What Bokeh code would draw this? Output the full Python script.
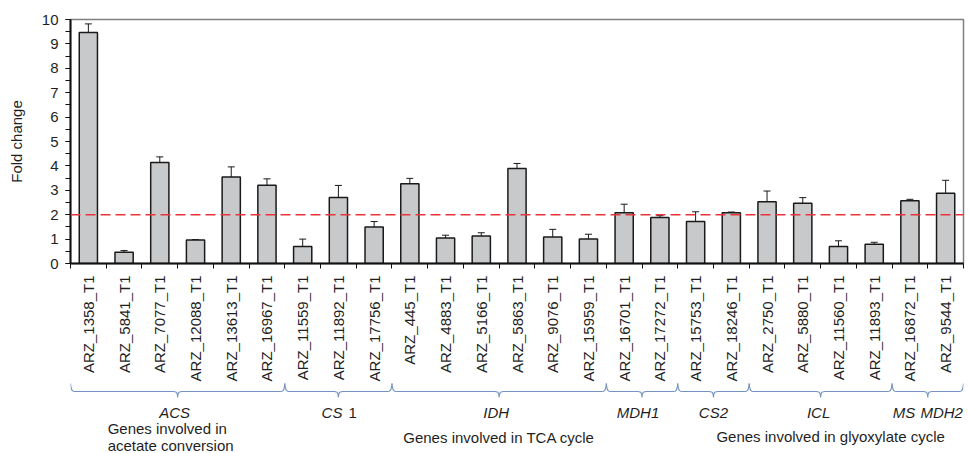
import math
from bokeh.plotting import figure
from bokeh.layouts import column
from bokeh.models import (ColumnDataSource, Range1d, FixedTicker, SingleIntervalTicker,
                          Whisker, TeeHead, Span, Label)
from bokeh.core.properties import value
from bokeh.embed import file_html
from bokeh.resources import INLINE

# ---------------- data ----------------
genes = ["ARZ_1358_T1", "ARZ_5841_T1", "ARZ_7077_T1", "ARZ_12088_T1", "ARZ_13613_T1",
         "ARZ_16967_T1", "ARZ_11559_T1", "ARZ_11892_T1", "ARZ_17756_T1", "ARZ_445_T1",
         "ARZ_4883_T1", "ARZ_5166_T1", "ARZ_5863_T1", "ARZ_9076_T1", "ARZ_15959_T1",
         "ARZ_16701_T1", "ARZ_17272_T1", "ARZ_15753_T1", "ARZ_18246_T1", "ARZ_2750_T1",
         "ARZ_5880_T1", "ARZ_11560_T1", "ARZ_11893_T1", "ARZ_16872_T1", "ARZ_9544_T1"]
fold_change = [9.47, 0.46, 4.14, 0.96, 3.55, 3.21, 0.70, 2.70, 1.50, 3.27,
               1.04, 1.13, 3.89, 1.09, 1.00, 2.08, 1.89, 1.72, 2.08, 2.53,
               2.47, 0.70, 0.79, 2.57, 2.88]
error = [0.35, 0.07, 0.23, 0.02, 0.41, 0.26, 0.30, 0.50, 0.22, 0.22,
         0.12, 0.13, 0.21, 0.31, 0.20, 0.35, 0.07, 0.40, 0.03, 0.44,
         0.23, 0.23, 0.08, 0.06, 0.53]
threshold = 2

gene_groups = ["ACS", "CS", "IDH", "MDH1", "CS2", "ICL", "MS", "MDH2"]
group_suffix = ["", "1", "", "", "", "", "", ""]
group_sizes = [6, 3, 6, 2, 2, 4, 1, 1]
bracket_sizes = [6, 3, 6, 2, 2, 4, 2]
y_max = 10

process_labels = ["Genes involved in\nacetate conversion", "Genes involved in TCA cycle",
                  "Genes involved in glyoxylate cycle"]

FONT = "Liberation Sans"
TXT = "#1f1f1f"

n = len(genes)
xs = list(range(n))
src = ColumnDataSource(dict(x=xs, top=fold_change,
                            upper=[v + e for v, e in zip(fold_change, error)],
                            lower=[v - e for v, e in zip(fold_change, error)]))

W = 969
LEFT = 70
FRAME_W = 893
xr = Range1d(-0.5, n - 0.5)

# ---------------- main chart ----------------
p = figure(width=W, height=273, x_range=xr, y_range=Range1d(0, y_max),
           output_backend="svg", toolbar_location=None,
           min_border_left=LEFT, min_border_right=W - LEFT - FRAME_W,
           min_border_top=19, min_border_bottom=10)
p.xgrid.visible = False
p.ygrid.visible = False
p.outline_line_color = "#808080"
p.outline_line_width = 1.5

p.vbar(x="x", top="top", width=0.51, source=src, fill_color="#c8c9cb",
       line_color="#1a1a1a", line_width=1.5)
p.add_layout(Whisker(source=src, base="x", upper="upper", lower="lower",
                     line_color="#1a1a1a", line_width=1,
                     upper_head=TeeHead(size=7, line_color="#1a1a1a", line_width=1),
                     lower_head=TeeHead(size=7, line_color="#1a1a1a", line_width=1)))
p.add_layout(Span(location=threshold, dimension="width", line_color="#e8343a",
                  line_width=1.5, line_dash="10 5"))

ya = p.yaxis[0]
ya.ticker = SingleIntervalTicker(interval=1, num_minor_ticks=2)
ya.axis_line_color = "#111111"
ya.axis_line_width = 2
ya.major_tick_out = 5
ya.major_tick_in = 0
ya.minor_tick_out = 5
ya.minor_tick_in = 0
ya.major_tick_line_color = "#111111"
ya.minor_tick_line_color = "#111111"
ya.major_label_text_font = FONT
ya.major_label_text_font_size = "15px"
ya.major_label_text_color = TXT
ya.major_label_standoff = 7
ya.axis_label = "Fold change"
ya.axis_label_text_font = FONT
ya.axis_label_text_font_style = "normal"
ya.axis_label_text_font_size = "15px"
ya.axis_label_text_color = TXT
ya.axis_label_standoff = 14

# x axis: only the boundary ticks between genes; gene names are drawn below
xa = p.xaxis[0]
xa.ticker = FixedTicker(ticks=[], minor_ticks=[i - 0.5 for i in range(n + 1)])
xa.major_label_standoff = 0
xa.major_tick_out = 0
xa.major_tick_in = 0
xa.minor_tick_out = 5
xa.minor_tick_in = 0
xa.minor_tick_line_color = "#111111"
xa.axis_line_color = "#111111"
xa.axis_line_width = 2

# ---------------- gene labels, brackets and group labels ----------------
TOP2 = 273
p2 = figure(width=W, height=453 - TOP2, x_range=xr, y_range=Range1d(453 - TOP2, 0),
            output_backend="svg", toolbar_location=None,
            min_border_left=LEFT, min_border_right=W - LEFT - FRAME_W,
            min_border_top=0, min_border_bottom=0)
p2.axis.visible = False
p2.xgrid.visible = False
p2.ygrid.visible = False
p2.outline_line_color = None

def yy(page_y):
    return page_y - TOP2

p2.text(x=xs, y=[yy(275)] * n, text=genes, angle=math.pi / 2,
        text_font=value(FONT), text_font_size="15px", text_color=TXT,
        text_align="right", text_baseline="middle")

px = n / FRAME_W  # data units per pixel
curl_dx = [0, 0.5, 1.3, 2.6, 4.5]
curl_dy = [383, 387, 389.5, 390.7, 391]
b_xs, b_ys = [], []
start = 0
for size in bracket_sizes:
    L = start - 0.5
    R = start + size - 0.5
    M = (L + R) / 2
    bx = [L + d * px for d in curl_dx]
    by = list(curl_dy)
    bx += [M - 4 * px, M - 1.2 * px, M - 0.3 * px, M]
    by += [391, 391.8, 394, 397]
    bx += [M + 0.3 * px, M + 1.2 * px, M + 4 * px]
    by += [394, 391.8, 391]
    bx += [R - d * px for d in reversed(curl_dx)]
    by += list(reversed(curl_dy))
    b_xs.append(bx)
    b_ys.append([yy(v) for v in by])
    start += size
p2.multi_line(xs=b_xs, ys=b_ys, line_color="#7593c2", line_width=1.1)

centers = []
gstarts = []
start = 0
for size in group_sizes:
    gstarts.append(start)
    centers.append(start + (size - 1) / 2)
    start += size

# group names
label_shift = [-3, 0, -3, -4, 0, -2, -6, -4]
for i, name in enumerate(gene_groups):
    common = dict(y=yy(412), text_font=FONT, text_font_size="15px", text_color=TXT,
                  text_baseline="middle")
    if group_suffix[i]:
        p2.add_layout(Label(x=centers[i], x_offset=4, text=name, text_align="right",
                            text_font_style="italic", **common))
        p2.add_layout(Label(x=centers[i], x_offset=10, text=group_suffix[i],
                            text_align="left", **common))
    else:
        p2.add_layout(Label(x=centers[i], x_offset=label_shift[i], text=name,
                            text_align="center", text_font_style="italic", **common))

# process labels
p2.text(x=[centers[0]], y=[yy(436)], text=[process_labels[0]],
        x_offset=-70, text_font=value(FONT), text_font_size="15px", text_color=TXT,
        text_align="left", text_baseline="middle", text_line_height=1.0)
p2.text(x=[centers[2]], y=[yy(437)], text=[process_labels[1]],
        text_font=value(FONT), text_font_size="15px", text_color=TXT,
        text_align="center", text_baseline="middle")
glyox_center = (gstarts[4] + n - 1) / 2
p2.text(x=[glyox_center], y=[yy(436)], text=[process_labels[2]], x_offset=10,
        text_font=value(FONT), text_font_size="15px", text_color=TXT,
        text_align="center", text_baseline="middle")

layout = column(p, p2, spacing=0)
open("out.html", "w").write(file_html(layout, INLINE))
